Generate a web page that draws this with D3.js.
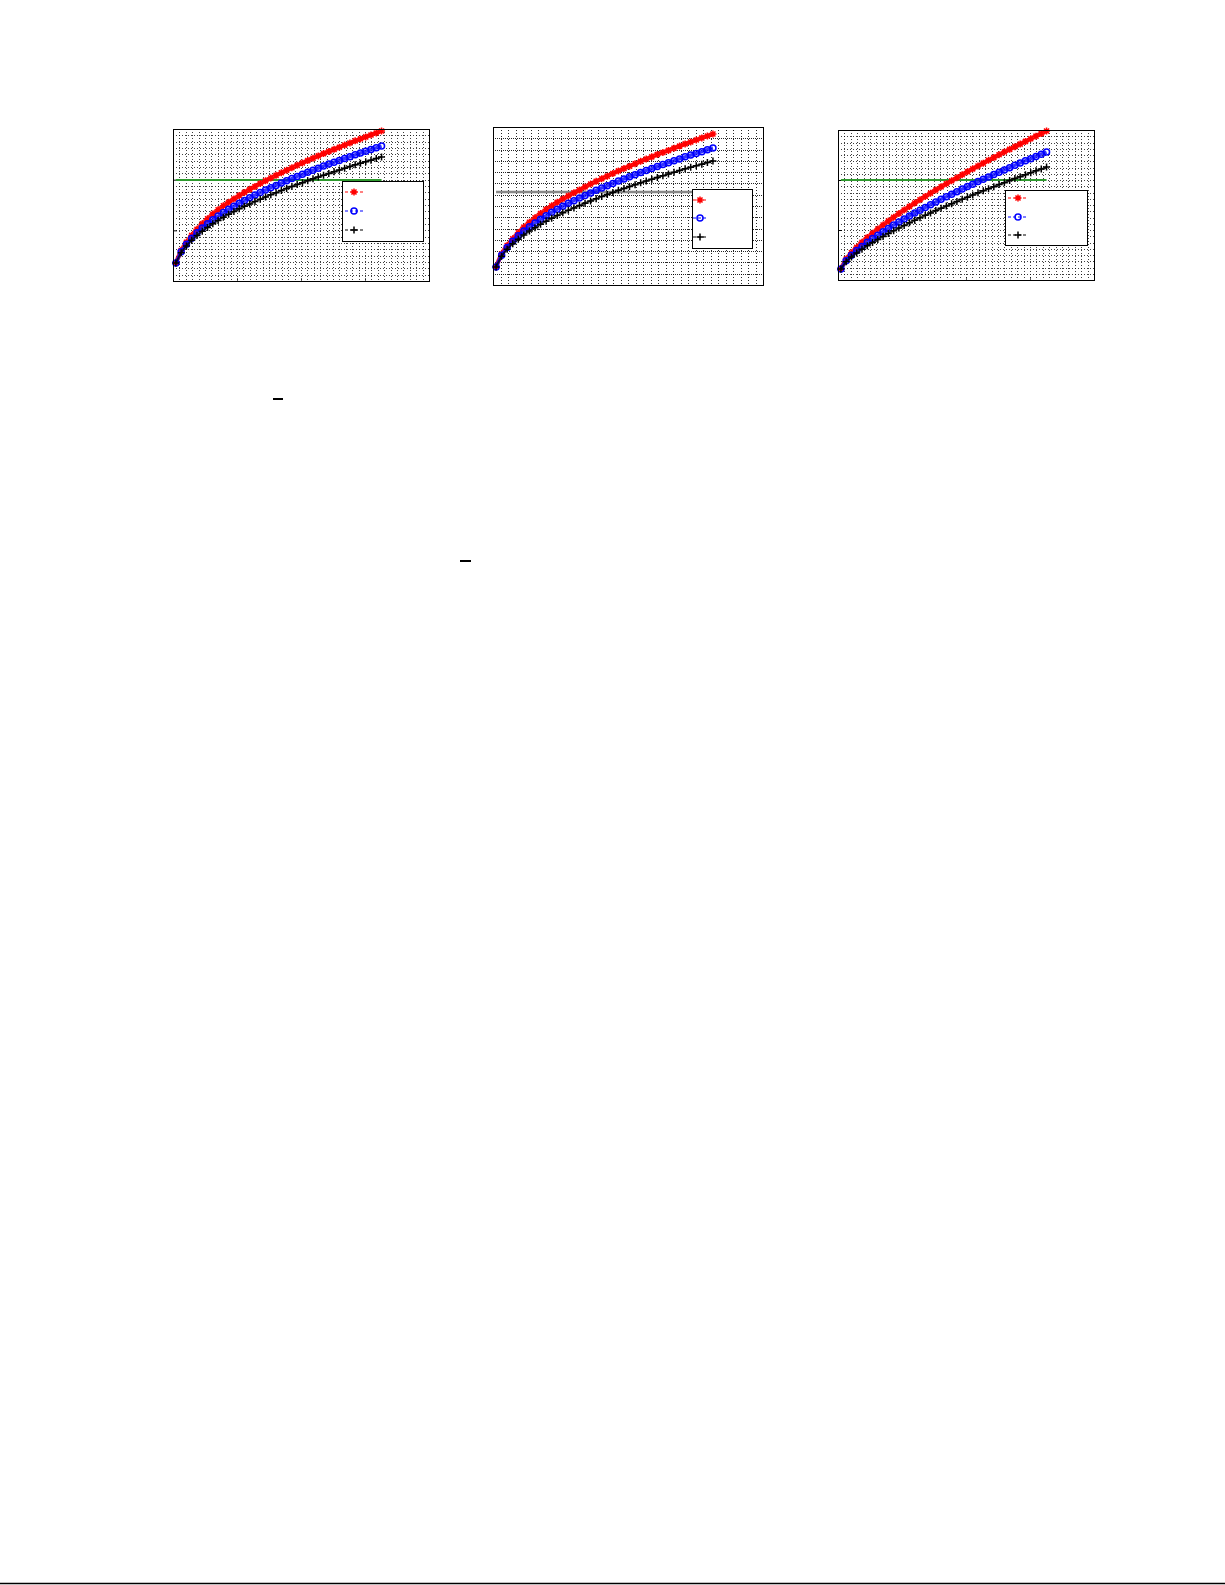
<!DOCTYPE html>
<html>
<head>
<meta charset="utf-8">
<script src="https://cdnjs.cloudflare.com/ajax/libs/d3/7.8.5/d3.min.js"></script>
<style>
body { margin: 0; background: #fff; }
svg { display: block; }
</style>
</head>
<body>
<svg id="page" width="1225" height="1585"></svg>
<script>

// sample index along x (same for every panel)
var steps = [0,1,2,3,4,5,6,7,8,9,10,11,12,13,14,15,16,17,18,19,20,21,22,23,24,25,26,27,28,29,30,31,32,33,34,35,36,37,38,39];

// panel 1
var redA   = [11.8,20.0,25.5,30.0,34.0,37.6,41.0,44.0,46.9,49.5,51.8,54.0,56.2,58.3,60.3,62.2,64.1,65.9,67.8,69.5,71.2,72.9,74.5,76.1,77.7,79.2,80.8,82.3,83.8,85.2,86.6,88.0,89.4,90.8,92.2,93.5,94.8,96.1,97.4,98.7];
var blueA  = [11.8,19.2,24.2,28.2,31.7,34.8,37.7,40.3,42.7,45.0,47.2,49.2,51.1,53.0,54.8,56.5,58.2,59.8,61.4,62.9,64.4,65.9,67.4,68.8,70.2,71.6,72.9,74.2,75.6,76.9,78.1,79.3,80.6,81.8,83.0,84.2,85.3,86.5,87.6,88.8];
var blackA = [11.8,18.6,23.1,26.8,29.9,32.7,35.2,37.6,39.8,41.9,43.9,45.7,47.5,49.1,50.7,52.3,53.8,55.3,56.8,58.1,59.5,60.9,62.2,63.5,64.7,66.0,67.2,68.4,69.6,70.8,71.9,73.0,74.1,75.3,76.4,77.4,78.5,79.5,80.6,81.6];
var limitA = 66.4;

// panel 2
var redB   = [11.4,19.6,25.0,29.3,33.1,36.6,39.7,42.6,45.2,47.8,50.1,52.3,54.4,56.4,58.4,60.2,62.1,63.9,65.6,67.3,68.9,70.6,72.2,73.7,75.2,76.7,78.3,79.7,81.1,82.6,83.9,85.2,86.6,87.9,89.3,90.5,91.8,93.1,94.3,95.6];
var blueB  = [11.4,18.9,23.8,27.7,31.1,34.1,36.8,39.3,41.6,43.9,46.0,48.0,49.9,51.7,53.4,55.1,56.7,58.3,59.9,61.4,62.8,64.3,65.8,67.1,68.5,69.8,71.2,72.5,73.7,75.0,76.2,77.4,78.6,79.8,81.1,82.2,83.3,84.4,85.6,86.7];
var blackB = [11.4,18.2,22.6,26.1,29.0,31.7,34.1,36.3,38.4,40.4,42.3,44.0,45.7,47.3,48.8,50.3,51.8,53.2,54.6,56.0,57.2,58.6,59.9,61.1,62.3,63.5,64.7,65.8,67.0,68.1,69.2,70.2,71.3,72.4,73.5,74.5,75.5,76.5,77.5,78.5];
var limitB = 58.9;

// panel 3
var redC   = [7.3,13.9,18.1,21.8,25.2,28.3,31.2,34.0,36.7,39.3,41.8,44.3,46.7,49.0,51.3,53.5,55.7,57.9,60.0,62.1,64.2,66.2,68.2,70.2,72.2,74.1,76.0,77.9,79.8,81.6,83.5,85.3,87.1,88.9,90.6,92.4,94.2,95.9,97.6,99.3];
var blueC  = [7.3,12.9,16.5,19.6,22.4,25.1,27.6,29.9,32.2,34.4,36.6,38.7,40.7,42.7,44.6,46.5,48.4,50.2,52.0,53.8,55.5,57.2,58.9,60.6,62.3,63.9,65.6,67.2,68.7,70.3,71.9,73.4,74.9,76.5,78.0,79.5,80.9,82.4,83.9,85.3];
var blackC = [7.3,12.2,15.3,18.0,20.5,22.8,25.0,27.0,29.0,31.0,32.8,34.6,36.4,38.1,39.8,41.5,43.1,44.7,46.3,47.8,49.3,50.8,52.3,53.8,55.2,56.7,58.1,59.5,60.9,62.2,63.6,64.9,66.3,67.6,68.9,70.2,71.5,72.8,74.0,75.3];
var limitC = 66.7;

var xDomain = [-0.55, 48];
var yDomain = [0, 100];

var svg = d3.select("svg#page");
svg.append("rect").attr("width", 1225).attr("height", 1585).style("fill", "#fff");

// marker shapes
function markerPath(kind, s){
    if (kind == "star"){
        var d = s * 0.72;
        return `M${-s},0H${s}M0,${-s}V${s}M${-d},${-d}L${d},${d}M${-d},${d}L${d},${-d}`;
    }
    return `M${-s},0H${s}M0,${-s}V${s}`;
}

function drawMarkers(g, pts, kind, color, size){
    if (kind == "circle"){
        g.selectAll("circle.m").data(pts).enter()
            .append("circle")
            .attr("class", "m")
            .attr("cx", d => d[0])
            .attr("cy", d => d[1])
            .attr("r", size)
            .style("fill", "none")
            .style("stroke", color)
            .style("stroke-width", 1.5);
    } else {
        g.selectAll("path.m").data(pts).enter()
            .append("path")
            .attr("class", "m")
            .attr("transform", d => `translate(${d[0]},${d[1]})`)
            .attr("d", markerPath(kind, size))
            .style("fill", "none")
            .style("stroke", color)
            .style("stroke-width", 1.5);
    }
}

function drawPanel(cfg){

    var g = svg.append("g").attr("transform", `translate(${cfg.left},${cfg.top})`);
    var x = d3.scaleLinear().domain(xDomain).range([0, cfg.width]);
    var y = d3.scaleLinear().domain(yDomain).range([cfg.height, 0]);

    // minor grid
    g.append("g").selectAll("line")
        .data(d3.range(1, cfg.cols))
        .enter().append("line")
        .attr("x1", d => Math.round(d * cfg.width / cfg.cols) + 0.5)
        .attr("x2", d => Math.round(d * cfg.width / cfg.cols) + 0.5)
        .attr("y1", 0)
        .attr("y2", cfg.height)
        .style("stroke", "#000")
        .style("stroke-opacity", cfg.gridOpacity)
        .style("stroke-dasharray", "1,2");

    g.append("g").selectAll("line")
        .data(d3.range(1, cfg.rows))
        .enter().append("line")
        .attr("y1", d => Math.round(d * cfg.height / cfg.rows) + 0.5)
        .attr("y2", d => Math.round(d * cfg.height / cfg.rows) + 0.5)
        .attr("x1", 0)
        .attr("x2", cfg.width)
        .style("stroke", "#000")
        .style("stroke-opacity", cfg.gridOpacity)
        .style("stroke-dasharray", cfg.rowDash);

    // inward ticks
    if (cfg.ticks){
        var xt = [1, 2, 3].map(k => xDomain[0] + (xDomain[1] - xDomain[0]) * k / 4);
        var yt = [1, 2].map(k => yDomain[0] + (yDomain[1] - yDomain[0]) * k / 3);
        g.append("g")
            .attr("transform", `translate(0,${cfg.height})`)
            .call(d3.axisBottom(x).tickValues(xt).tickSize(-3).tickFormat(""))
            .call(a => a.select(".domain").remove())
            .selectAll("line").style("stroke-opacity", 0.6);
        g.append("g")
            .call(d3.axisLeft(y).tickValues(yt).tickSize(-4).tickFormat(""))
            .call(a => a.select(".domain").remove());
    }

    // limit line
    g.append("line")
        .attr("x1", x(steps[0]))
        .attr("x2", x(steps[steps.length - 1]))
        .attr("y1", y(cfg.limit))
        .attr("y2", y(cfg.limit))
        .style("stroke", cfg.limitColor)
        .style("stroke-width", cfg.limitWidth);

    var line = d3.line().curve(d3.curveMonotoneX).x(d => x(d[0])).y(d => y(d[1]));

    cfg.series.forEach(function(s){
        var data = steps.map((t, i) => [t, s.values[i]]);
        // dense marker band: a heavy trace under the markers
        g.append("path")
            .datum(data)
            .attr("d", line)
            .style("fill", "none")
            .style("stroke", s.color)
            .style("stroke-opacity", 0.8)
            .style("stroke-width", s.band);
        var mg = g.append("g");
        drawMarkers(mg, data.map(d => [x(d[0]), y(d[1])]), s.kind, s.color, s.size);
    });

    // legend (no labels came through in the original)
    var L = cfg.legend;
    var lg = g.append("g").attr("transform", `translate(${L.x},${L.y})`);
    lg.append("rect")
        .attr("x", 0.5).attr("y", 0.5)
        .attr("width", L.w).attr("height", L.h)
        .style("fill", "#fff")
        .style("stroke", "#000");
    cfg.series.forEach(function(s, i){
        var ey = L.rows[i];
        lg.append("line")
            .attr("x1", L.x1).attr("x2", L.x2)
            .attr("y1", ey).attr("y2", ey)
            .style("stroke", s.color)
            .style("stroke-width", 1.2)
            .style("stroke-dasharray", "3,2");
        drawMarkers(lg.append("g"), [[L.mx, ey]], s.kind, s.color, s.size);
    });

    // frame
    g.append("rect")
        .attr("x", 0.5).attr("y", 0.5)
        .attr("width", cfg.width).attr("height", cfg.height)
        .style("fill", "none")
        .style("stroke", "#000");
}

function seriesOf(r, b, k){
    return [
        {values: r, color: "#ff0000", kind: "star", size: 3.5, band: 4.5},
        {values: b, color: "#0000ff", kind: "circle", size: 3, band: 3.5},
        {values: k, color: "#000000", kind: "plus", size: 3.5, band: 1.8}
    ];
}

drawPanel({
    left: 173, top: 129, width: 256, height: 152,
    cols: 40, rows: 24, rowDash: "1,2", gridOpacity: 0.75, ticks: true,
    limit: limitA, limitColor: "#2e9a2e", limitWidth: 2,
    series: seriesOf(redA, blueA, blackA),
    legend: {x: 169, y: 52, w: 81, h: 60, rows: [11, 30, 49], x1: 3, x2: 21, mx: 12}
});

drawPanel({
    left: 493, top: 127, width: 270, height: 158,
    cols: 36, rows: 14, rowDash: "1,1", gridOpacity: 0.85, ticks: false,
    limit: limitB, limitColor: "#888888", limitWidth: 2.5,
    series: seriesOf(redB, blueB, blackB),
    legend: {x: 199, y: 62, w: 60, h: 59, rows: [11, 29, 48], x1: 1, x2: 15, mx: 8}
});

drawPanel({
    left: 838, top: 130, width: 256, height: 150,
    cols: 40, rows: 24, rowDash: "1,2", gridOpacity: 0.75, ticks: true,
    limit: limitC, limitColor: "#2e9a2e", limitWidth: 2,
    series: seriesOf(redC, blueC, blackC),
    legend: {x: 167, y: 60, w: 82, h: 55, rows: [8, 27, 45], x1: 3, x2: 22, mx: 13}
});

// stray rules left over from the page
svg.append("line").attr("x1", 273).attr("x2", 283).attr("y1", 399).attr("y2", 399)
    .style("stroke", "#000").style("stroke-width", 2);
svg.append("line").attr("x1", 460).attr("x2", 471).attr("y1", 561).attr("y2", 561)
    .style("stroke", "#000").style("stroke-width", 2);
svg.append("line").attr("x1", 0).attr("x2", 1225).attr("y1", 1583.5).attr("y2", 1583.5)
    .style("stroke", "#000").style("stroke-width", 1.5);

</script>
</body>
</html>
